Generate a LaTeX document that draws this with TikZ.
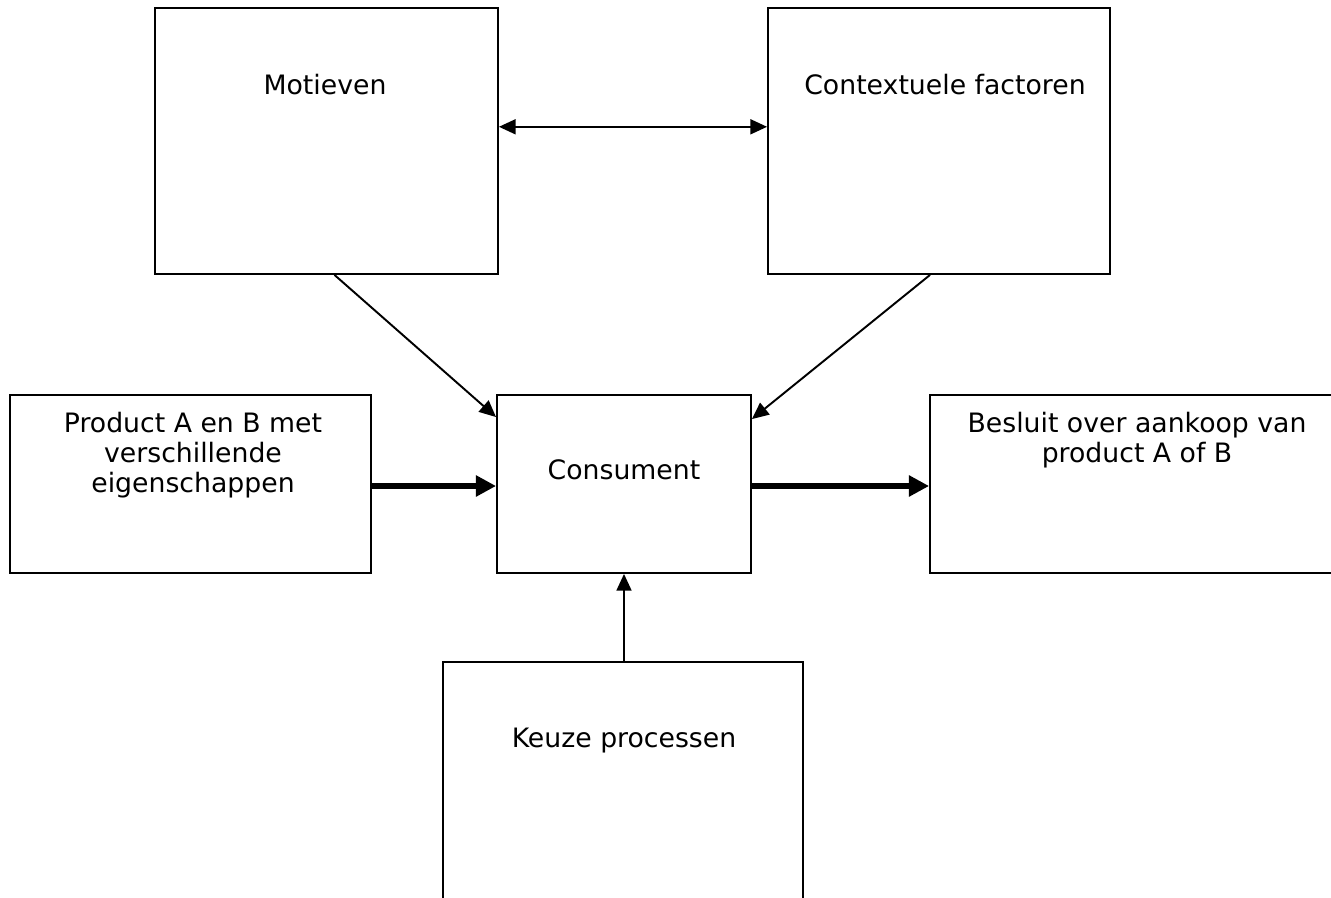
\documentclass[tikz,border=0pt]{standalone}
\usepackage{fontspec}
\setmainfont{DejaVu Sans}
\usetikzlibrary{positioning, arrows.meta, calc}

\begin{document}
\begin{tikzpicture}[
    x=0.02cm, y=-0.02cm,
    box/.style={
        draw,
        line width=1.1pt,
        minimum width=#1,
        inner sep=0pt
    },
    txt/.style={
        align=center,
        font=\fontsize{15.2}{17}\selectfont,
        inner sep=0pt
    },
    arrow/.style={-{Triangle[length=9.5pt, width=8.5pt]}, line width=1.1pt},
    thickarrow/.style={-{Triangle[length=11.5pt, width=11.5pt]}, line width=3.4pt}
]
    \useasboundingbox (0,0) rectangle (1331,898);
    \clip (0,0) rectangle (1331,898);

    % boxes
    \node (mot) [box=6.86cm, minimum height=5.32cm] at (326.5,141) {};
    \node (ctx) [box=6.84cm, minimum height=5.32cm] at (939,141) {};
    \node (prod) [box=7.22cm, minimum height=3.56cm] at (190.5,484) {};
    \node (cons) [box=5.08cm, minimum height=3.56cm] at (624,484) {};
    \node (bes) [box=8.2cm, minimum height=3.56cm] at (1135,484) {};
    \node (keu) [box=7.2cm, minimum height=5.16cm] at (623,791) {};

    % texts
    \node (motT) [txt] at (325,85) {Motieven};
    \node (ctxT) [txt] at (945,85) {Contextuele factoren};
    \node (prodT) [txt] at (193,455) {Product A en B met\\verschillende\\eigenschappen};
    \node (consT) [txt] at (624,470) {Consument};
    \node (besT) [txt] at (1137,440) {Besluit over aankoop van\\product A of B};
    \node (keuT) [txt] at (624,741) {Keuze processen};

    % connectors
    \draw[arrow, {Triangle[length=9.5pt, width=8.5pt]}-{Triangle[length=9.5pt, width=8.5pt]}]
        ($(mot.north east)!0.447!(mot.south east)$) -- ($(ctx.north west)!0.447!(ctx.south west)$);
    \draw[arrow] ($(mot.south)+(8,0)$) -- ($(cons.north west)+(0,23)$);
    \draw[arrow] ($(ctx.south)+(-9,0)$) -- ($(cons.north east)+(0,25)$);
    \draw[thickarrow] (prod.east |- 0,486) -- (cons.west |- 0,486);
    \draw[thickarrow] (cons.east |- 0,486) -- (bes.west |- 0,486);
    \draw[arrow] (keu.north -| cons.south) -- (cons.south);

\end{tikzpicture}
\end{document}
